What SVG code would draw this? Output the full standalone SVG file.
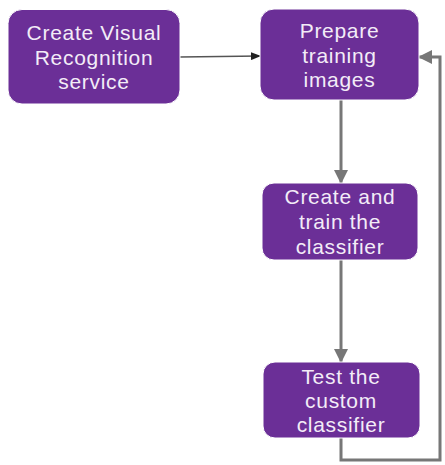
<svg xmlns="http://www.w3.org/2000/svg" width="445" height="465" viewBox="0 0 445 465">
<style>
.box{fill:#6b2f97;stroke:#ffffff;stroke-width:1}
.lbl{font-family:"Liberation Sans",Arial,sans-serif;font-size:21px;letter-spacing:0.7px;fill:#f3ecf7;text-anchor:middle}
.thin{stroke:#555;stroke-width:1.5;fill:none}
.thick{stroke:#777;stroke-width:3;fill:none}
</style>
<defs>
<marker id="ah" markerWidth="10" markerHeight="8" refX="9" refY="4" orient="auto" markerUnits="userSpaceOnUse">
<path d="M0,0 L10,4 L0,8 Z" fill="#222"/>
</marker>
<marker id="ahg" markerWidth="14" markerHeight="14" refX="13" refY="7" orient="auto" markerUnits="userSpaceOnUse">
<path d="M0,0 L14,7 L0,14 Z" fill="#777"/>
</marker>
</defs>
<rect width="445" height="465" fill="#ffffff"/>
<g id="connectors">
<line class="thin" x1="180" y1="57" x2="260" y2="56" marker-end="url(#ah)"/>
<line class="thick" x1="341" y1="100" x2="341" y2="183" marker-end="url(#ahg)"/>
<line class="thick" x1="341" y1="260" x2="341" y2="362" marker-end="url(#ahg)"/>
<polyline class="thick" points="341,438 341,460 440,460 440,57 419,57" marker-end="url(#ahg)"/>
</g>
<g id="n1">
<rect class="box" x="8" y="9.5" width="172" height="94.5" rx="14"/>
<text class="lbl" x="94" y="40">Create Visual</text>
<text class="lbl" x="94" y="64.5">Recognition</text>
<text class="lbl" x="94" y="89">service</text>
</g>
<g id="n2">
<rect class="box" x="260" y="9" width="159" height="91" rx="14"/>
<text class="lbl" x="339.5" y="38">Prepare</text>
<text class="lbl" x="339.5" y="63">training</text>
<text class="lbl" x="339.5" y="87">images</text>
</g>
<g id="n3">
<rect class="box" x="262" y="183" width="156" height="77" rx="12"/>
<text class="lbl" x="340" y="204">Create and</text>
<text class="lbl" x="340" y="229">train the</text>
<text class="lbl" x="340" y="254">classifier</text>
</g>
<g id="n4">
<rect class="box" x="263" y="362" width="157" height="76" rx="12"/>
<text class="lbl" x="341" y="384">Test the</text>
<text class="lbl" x="341" y="408">custom</text>
<text class="lbl" x="341" y="432">classifier</text>
</g>
</svg>
